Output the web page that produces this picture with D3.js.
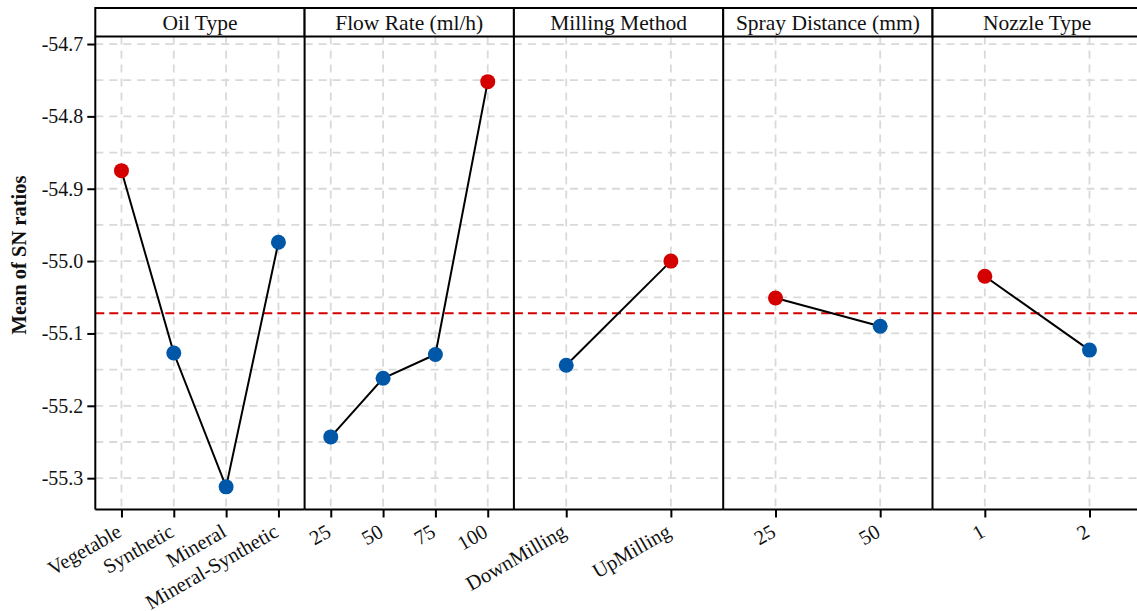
<!DOCTYPE html>
<html>
<head>
<meta charset="utf-8">
<script src="https://cdn.jsdelivr.net/npm/d3@7"></script>
<style>
  body { margin: 0; background: #fff; }
  svg { display: block; font-family: "Liberation Serif", "Times New Roman", serif; }
</style>
</head>
<body>
<svg></svg>
<script>
// factor names (facet strips)
let factors = ['Oil Type', 'Flow Rate (ml/h)', 'Milling Method', 'Spray Distance (mm)', 'Nozzle Type']

// levels and mean SN ratios per factor
let oilLevels = ['Vegetable', 'Synthetic', 'Mineral', 'Mineral-Synthetic']
let oilMeans = [-54.875, -55.127, -55.312, -54.974]

let flowLevels = ['25', '50', '75', '100']
let flowMeans = [-55.243, -55.162, -55.129, -54.752]

let millingLevels = ['DownMilling', 'UpMilling']
let millingMeans = [-55.144, -55.000]

let sprayLevels = ['25', '50']
let sprayMeans = [-55.051, -55.090]

let nozzleLevels = ['1', '2']
let nozzleMeans = [-55.021, -55.123]

let grandMean = -55.072
let yTicks = [-54.7, -54.8, -54.9, -55.0, -55.1, -55.2, -55.3]
let yMinor = [-54.75, -54.85, -54.95, -55.05, -55.15, -55.25]

let width = 1137
let height = 611
let leftX = 95.3
let stripTop = 8
let stripH = 28.5
let panelTop = stripTop + stripH
let panelBottom = 509.5
let panelW = 209.3

let red = '#d40000'
let blue = '#0057a8'
let serif = '"Liberation Serif", "Times New Roman", serif'

let panels = [
  { name: factors[0], levels: oilLevels, means: oilMeans },
  { name: factors[1], levels: flowLevels, means: flowMeans },
  { name: factors[2], levels: millingLevels, means: millingMeans },
  { name: factors[3], levels: sprayLevels, means: sprayMeans },
  { name: factors[4], levels: nozzleLevels, means: nozzleMeans }
]

let svg = d3.select('svg')
  .attr('width', width)
  .attr('height', height)

let yScale = d3.scaleLinear()
  .domain([-55.3433, -54.6896])
  .range([panelBottom, panelTop])

panels.forEach((p, i) => {
  let x0 = leftX + i * panelW
  let xScale = d3.scalePoint()
    .domain(p.levels)
    .range([x0, x0 + panelW])
    .padding(0.5)

  let g = svg.append('g')

  // grid
  g.selectAll('.hgrid')
    .data(yTicks.concat(yMinor))
    .enter()
    .append('line')
    .attr('x1', x0).attr('x2', x0 + panelW)
    .attr('y1', d => yScale(d)).attr('y2', d => yScale(d))
    .attr('stroke', '#d9d9d9')
    .attr('stroke-width', 1.8)
    .attr('stroke-dasharray', '8,6')

  g.selectAll('.vgrid')
    .data(p.levels)
    .enter()
    .append('line')
    .attr('x1', d => xScale(d)).attr('x2', d => xScale(d))
    .attr('y1', panelTop).attr('y2', panelBottom)
    .attr('stroke', '#d9d9d9')
    .attr('stroke-width', 1.8)
    .attr('stroke-dasharray', '8,6')

  // grand mean
  g.append('line')
    .attr('x1', x0).attr('x2', x0 + panelW)
    .attr('y1', yScale(grandMean)).attr('y2', yScale(grandMean))
    .attr('stroke', red)
    .attr('stroke-width', 2)
    .attr('stroke-dasharray', '9,5')

  // connecting line
  let line = d3.line()
    .x((d, j) => xScale(p.levels[j]))
    .y(d => yScale(d))
  g.append('path')
    .datum(p.means)
    .attr('d', line)
    .attr('fill', 'none')
    .attr('stroke', '#000')
    .attr('stroke-width', 2)

  let best = d3.max(p.means)
  g.selectAll('circle')
    .data(p.means)
    .enter()
    .append('circle')
    .attr('cx', (d, j) => xScale(p.levels[j]))
    .attr('cy', d => yScale(d))
    .attr('r', 7.5)
    .attr('fill', d => d === best ? red : blue)

  // strip
  g.append('rect')
    .attr('x', x0).attr('y', stripTop)
    .attr('width', panelW).attr('height', stripH)
    .attr('fill', '#fff')
    .attr('stroke', '#000')
    .attr('stroke-width', 2)
  g.append('text')
    .attr('x', x0 + panelW / 2)
    .attr('y', stripTop + stripH / 2 + 7.5)
    .attr('text-anchor', 'middle')
    .attr('font-family', serif)
    .attr('font-size', 21.5)
    .attr('fill', '#111')
    .text(p.name)

  // left border of panel
  g.append('line')
    .attr('x1', x0).attr('x2', x0)
    .attr('y1', panelTop).attr('y2', panelBottom)
    .attr('stroke', '#000')
    .attr('stroke-width', 2)

  // x axis
  let xAxis = d3.axisBottom(xScale).tickSize(8).tickSizeOuter(0)
  let ax = g.append('g')
    .attr('transform', 'translate(0,' + panelBottom + ')')
    .call(xAxis)
  ax.attr('font-family', serif)
  ax.select('.domain').attr('stroke-width', 2).attr('d', 'M' + x0 + ',0H' + (x0 + panelW))
  ax.selectAll('.tick line').attr('stroke-width', 2)
  ax.selectAll('.tick text')
    .attr('font-family', serif)
    .attr('font-size', 20.5)
    .attr('fill', '#111')
    .attr('text-anchor', 'end')
    .attr('dy', 0)
    .attr('transform', 'translate(1,26) rotate(-30)')
    .attr('y', 0)
})

// y axis
let yAxis = d3.axisLeft(yScale).tickValues(yTicks).tickSize(8).tickSizeOuter(0)
  .tickFormat(d3.format('.1f'))
let ay = svg.append('g')
  .attr('transform', 'translate(' + leftX + ',0)')
  .attr('font-family', serif)
  .call(yAxis)
ay.select('.domain').remove()
ay.selectAll('.tick line').attr('stroke-width', 2)
ay.selectAll('.tick text')
  .attr('font-family', serif)
  .attr('font-size', 20)
  .attr('fill', '#111')
  .attr('x', -12)
  .text(d => d3.format('.1f')(d).replace('−', '-'))

svg.append('text')
  .attr('transform', 'translate(26,255) rotate(-90)')
  .attr('text-anchor', 'middle')
  .attr('font-family', serif)
  .attr('font-size', 20.5)
  .attr('font-weight', 'bold')
  .attr('fill', '#111')
  .text('Mean of SN ratios')
</script>
</body>
</html>
